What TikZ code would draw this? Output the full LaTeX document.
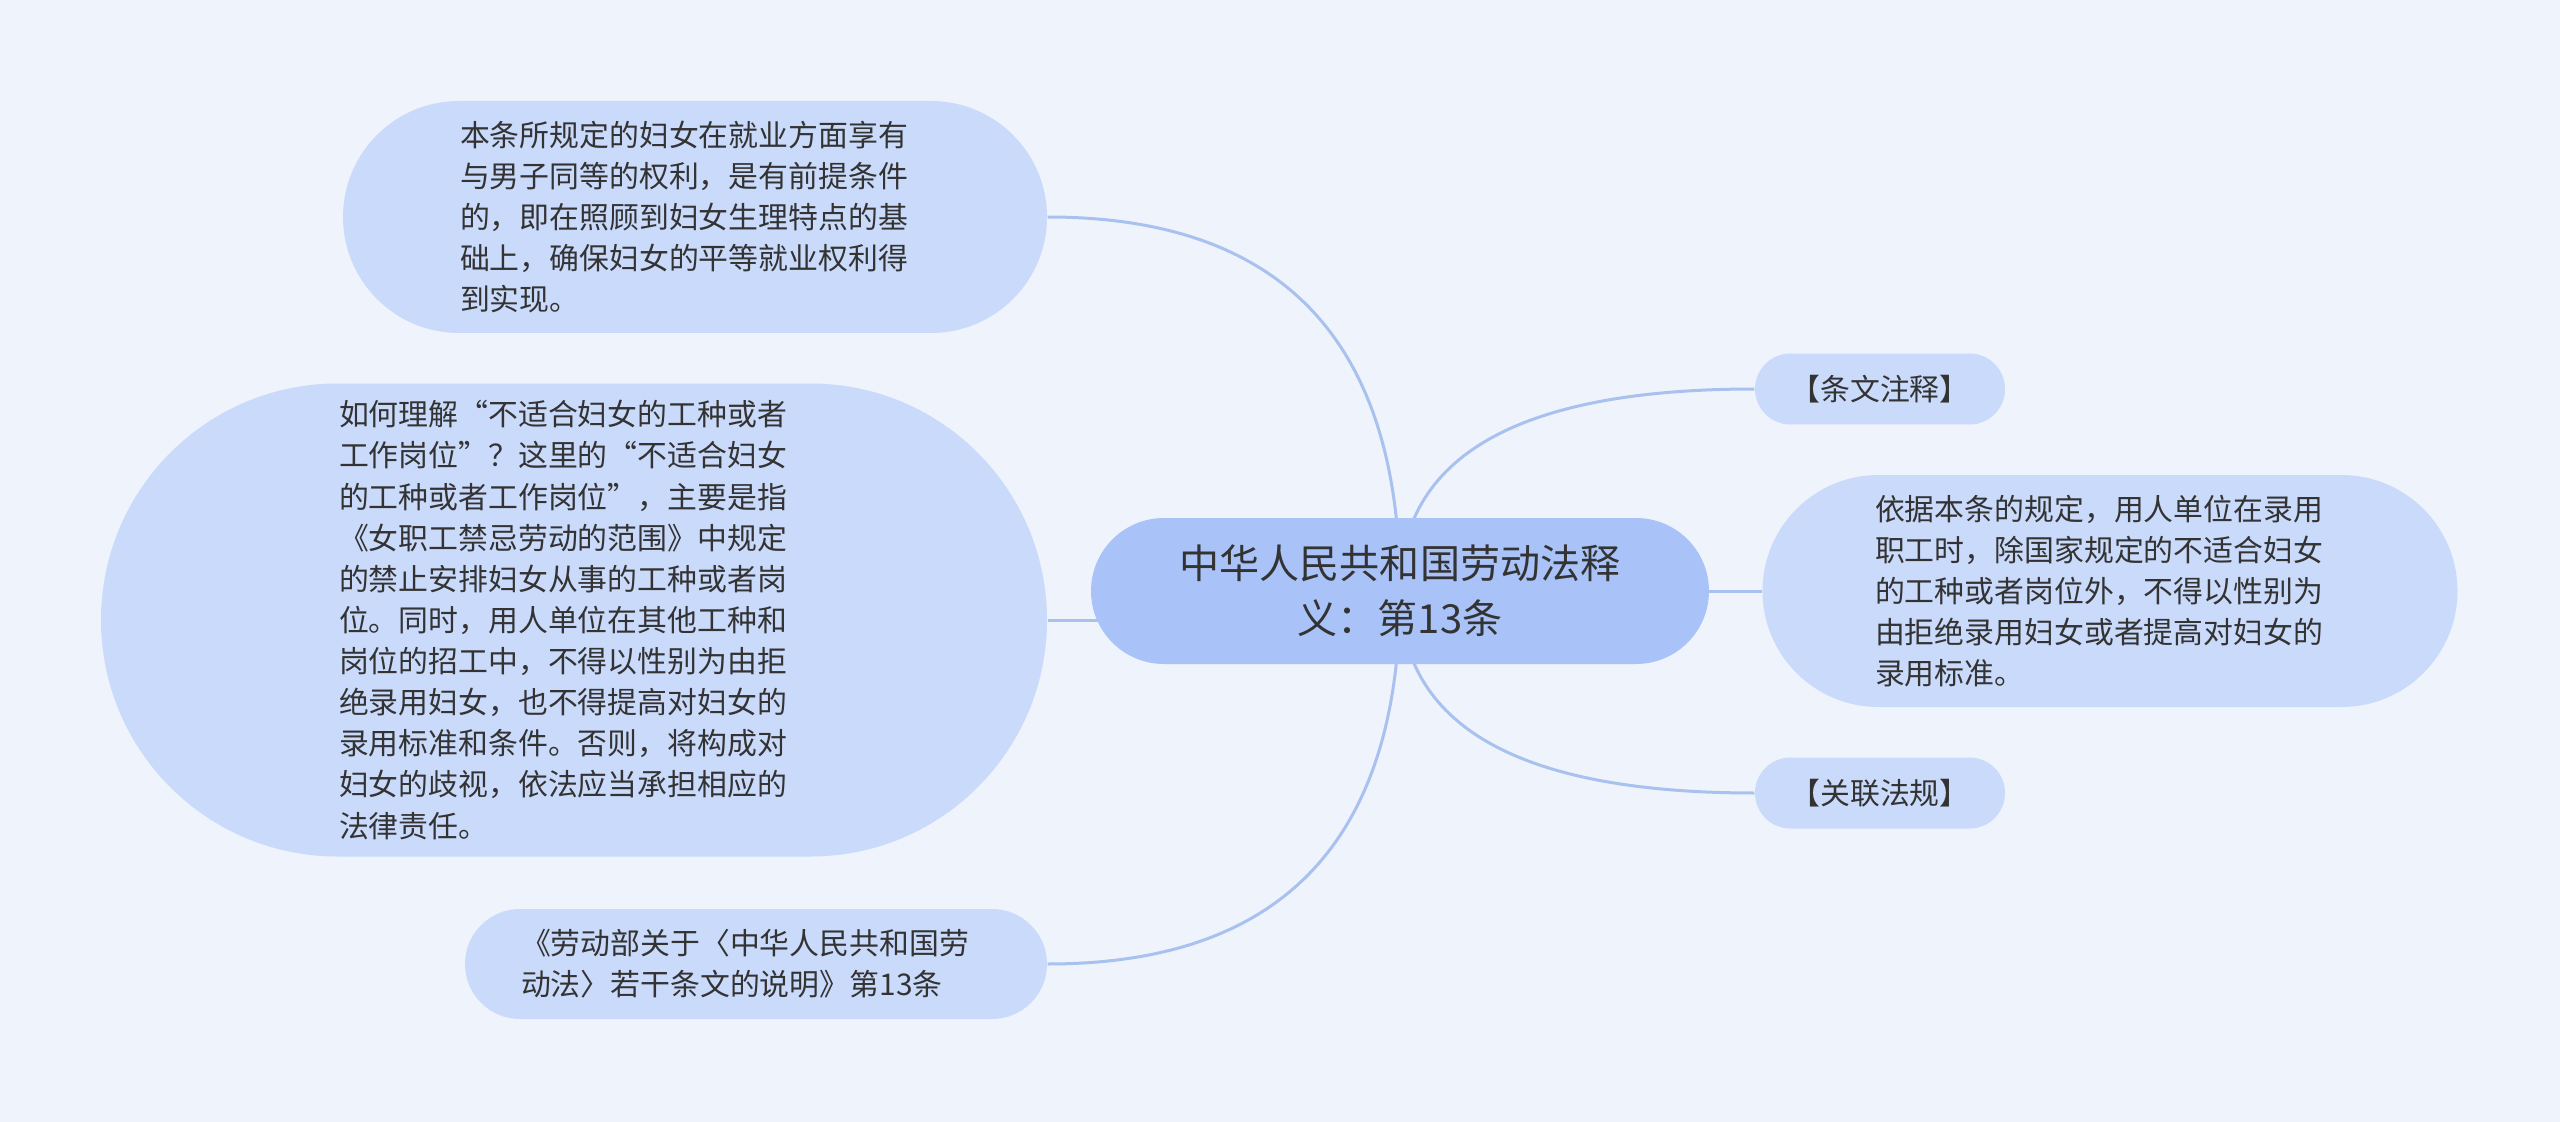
\documentclass[tikz,border=0pt]{standalone}
\usepackage{fontspec}
\setmainfont{Noto Sans CJK SC}
\usetikzlibrary{shapes.misc,calc}
\definecolor{bgcol}{HTML}{EEF3FC}
\definecolor{leafcol}{HTML}{CADAFB}
\definecolor{rootcol}{HTML}{A9C3F8}
\definecolor{linkcol}{HTML}{A9C1EE}
\definecolor{txtcol}{HTML}{333333}
\pgfdeclarelayer{canvas}
\pgfdeclarelayer{links}
\pgfsetlayers{canvas,links,main}

\begin{document}
\begin{tikzpicture}[x=0.1mm,y=-0.1mm,
  leaf/.style={rounded rectangle,fill=leafcol,text=txtcol,inner sep=0pt,align=left,
    font=\fontsize{8.5pt}{11.7pt}\selectfont},
  para/.style={leaf,text width=47mm},
  root/.style={rounded rectangle,fill=rootcol,text=txtcol,inner sep=0pt,align=center,
    font=\fontsize{11.4pt}{15.6pt}\selectfont},
  link/.style={draw=linkcol,line width=0.3mm}]
  \begin{pgfonlayer}{canvas}
    \fill[bgcol] (0,0) rectangle (2560,1122);
  \end{pgfonlayer}

  \node[root,minimum width=61.8mm,minimum height=14.6mm] (root) at (1400,591)
    {中华人民共和国劳动法释\\义：第13条};

  \node[para,minimum width=70.4mm,minimum height=23.2mm] (tl) at (695,217)
    {本条所规定的妇女在就业方面享有\\与男子同等的权利，是有前提条件\\的，即在照顾到妇女生理特点的基\\础上，确保妇女的平等就业权利得\\到实现。};
  \node[para,minimum width=94.6mm,minimum height=47.3mm] (ml) at (574,620)
    {如何理解“不适合妇女的工种或者\\工作岗位”？这里的“不适合妇女\\的工种或者工作岗位”，主要是指\\《女职工禁忌劳动的范围》中规定\\的禁止安排妇女从事的工种或者岗\\位。同时，用人单位在其他工种和\\岗位的招工中，不得以性别为由拒\\绝录用妇女，也不得提高对妇女的\\录用标准和条件。否则，将构成对\\妇女的歧视，依法应当承担相应的\\法律责任。};
  \node[para,minimum width=58.2mm,minimum height=11mm] (bl) at (756,964)
    {《劳动部关于〈中华人民共和国劳\\动法〉若干条文的说明》第13条};

  \node[leaf,minimum width=25mm,minimum height=7.1mm] (rt) at (1880,389) {【条文注释】};
  \node[para,minimum width=69.5mm,minimum height=23.2mm] (rm) at (2110,591)
    {依据本条的规定，用人单位在录用\\职工时，除国家规定的不适合妇女\\的工种或者岗位外，不得以性别为\\由拒绝录用妇女或者提高对妇女的\\录用标准。};
  \node[leaf,minimum width=25mm,minimum height=7.1mm] (rb) at (1880,793) {【关联法规】};

  \begin{pgfonlayer}{links}
    \foreach \leafname/\side in {tl/east,bl/east,rt/west,rb/west}
      \draw[link] (root.center)
        .. controls ($(root.center)!0.667!(root.center |- \leafname.\side)$)
        and ($(\leafname.\side)!0.667!(root.center |- \leafname.\side)$) .. (\leafname.\side);
    \draw[link] (ml.east) -- (ml.east -| root.center);
    \draw[link] (root.center) -- (rm.west);
  \end{pgfonlayer}
\end{tikzpicture}
\end{document}
